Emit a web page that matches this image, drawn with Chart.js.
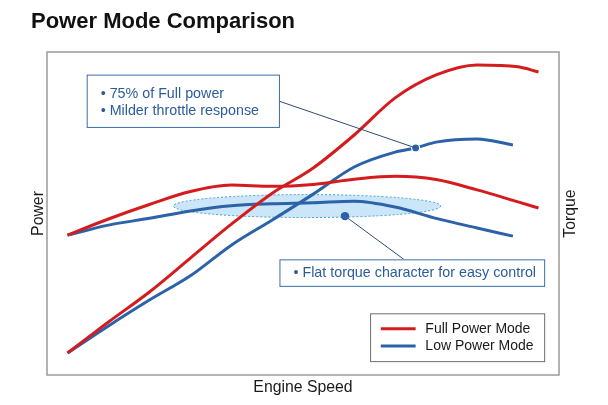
<!DOCTYPE html>
<html><head><meta charset="utf-8">
<script src="https://cdn.jsdelivr.net/npm/chart.js@4.4.1/dist/chart.umd.min.js"></script>
<style>html,body{margin:0;padding:0;background:#fff;}#wrap{width:608px;height:405px;position:relative;}</style>
</head><body><div id="wrap"><canvas id="c"></canvas></div>
<script>
// ---- data (arbitrary units: engine speed 0-100, output 0-100) ----
const chartTitle = 'Power Mode Comparison';
const xTitle = 'Engine Speed';
const yTitle = 'Power';
const y2Title = 'Torque';
const seriesNames = ['Full Power Mode', 'Low Power Mode'];

const fullSpeed  = [4, 12, 20, 28, 36, 44, 52, 60, 68, 76, 84, 92, 96];
const fullPower  = [6.8, 16.4, 25.7, 36.2, 46.7, 56.3, 64.1, 74.3, 85.8, 92.9, 96.0, 95.4, 93.8];
const fullTorque = [43.3, 48.3, 52.8, 56.8, 58.8, 58.4, 59.0, 60.6, 61.5, 60.5, 57.3, 53.6, 51.7];

const lowPowerSpeed = [4, 12, 20, 28, 36, 44, 52, 60, 68, 72, 76, 84, 91];
const lowPower      = [6.8, 15.2, 23.2, 30.7, 40.2, 48.0, 56.0, 64.4, 69.0, 70.3, 72.1, 73.1, 71.2];
const lowTorqueSpeed = [4, 12, 20, 28, 36, 44, 52, 60, 68, 76, 84, 91];
const lowTorque      = [43.3, 46.4, 48.5, 50.8, 52.4, 53.0, 53.3, 53.8, 52.0, 48.5, 45.5, 43.0];

const note1Text = ['\u2022 75% of Full power', '\u2022 Milder throttle response'];
const note1Index = 9; // highlighted point on Low Power curve
const note2Text = ['\u2022 Flat torque character for easy control'];

// ---- styling / annotation layout (data units) ----
const RED = '#d41c1f', BLUE = '#2b62a8';
const FONT = '"Liberation Sans", Arial, Helvetica, sans-serif';
const ann = {
  ellipse: {cx: 50.8, cy: 52.3, rx: 26.1, ry: 3.56},
  box1: {x0: 7.75, x1: 45.3, y0: 93.0, y1: 76.8, lead: 84.8},
  dot2: {x: 58.2, y: 49.2},
  box2: {x0: 45.4, x1: 97.1, y0: 35.8, y1: 27.6, leadX: 69.7},
  legend: {x0: 63.1, x1: 97.1, y0: 19.1, y1: 4.3, lx0: 65.2, lx1: 72.0, tx: 73.9, rows: [14.3, 9.0]}
};

const pts = (xs, ys) => xs.map((v, i) => ({x: v, y: ys[i]}));

const annotPlugin = {
  id: 'annot',
  beforeDatasetsDraw(chart) {
    const {ctx, chartArea: a, scales: {x, y}} = chart;
    ctx.save();
    ctx.strokeStyle = '#9b9b9b'; ctx.lineWidth = 1.5;
    ctx.strokeRect(a.left, a.top, a.right - a.left, a.bottom - a.top);
    const e = ann.ellipse;
    const cx = x.getPixelForValue(e.cx), cy = y.getPixelForValue(e.cy);
    const rx = x.getPixelForValue(e.cx + e.rx) - cx, ry = cy - y.getPixelForValue(e.cy + e.ry);
    ctx.beginPath(); ctx.ellipse(cx, cy, rx, ry, 0, 0, Math.PI * 2);
    ctx.fillStyle = 'rgba(185,222,246,0.75)'; ctx.fill();
    ctx.setLineDash([2, 2]); ctx.strokeStyle = '#3c9fcf'; ctx.lineWidth = 1; ctx.stroke();
    ctx.restore();
  },
  afterDatasetsDraw(chart) {
    const {ctx, chartArea: a, scales: {x, y}} = chart;
    const X = v => x.getPixelForValue(v), Y = v => y.getPixelForValue(v);
    ctx.save();
    const b1 = ann.box1;
    ctx.strokeStyle = '#2e4c6e'; ctx.lineWidth = 1;
    ctx.beginPath(); ctx.moveTo(X(b1.x1), Y(b1.lead));
    ctx.lineTo(X(lowPowerSpeed[note1Index]), Y(lowPower[note1Index])); ctx.stroke();
    const d2 = ann.dot2, b2 = ann.box2;
    ctx.beginPath(); ctx.moveTo(X(d2.x), Y(d2.y)); ctx.lineTo(X(b2.leadX), Y(b2.y0)); ctx.stroke();
    ctx.beginPath(); ctx.arc(X(d2.x), Y(d2.y), 4.2, 0, Math.PI * 2); ctx.fillStyle = BLUE; ctx.fill();
    const drawBox = (b, lines, dy) => {
      const l = X(b.x0), t = Y(b.y0), w = X(b.x1) - l, h = Y(b.y1) - t;
      ctx.fillStyle = '#fff'; ctx.fillRect(l, t, w, h);
      ctx.strokeStyle = '#3b6ea8'; ctx.lineWidth = 1; ctx.strokeRect(l + 0.5, t + 0.5, w, h);
      ctx.fillStyle = '#2b5c9c'; ctx.font = '14.3px ' + FONT; ctx.textBaseline = 'middle'; ctx.textAlign = 'left';
      const step = 17.7, start = t + h / 2 - step * (lines.length - 1) / 2 + dy;
      lines.forEach((s, i) => ctx.fillText(s, l + 14, start + i * step));
    };
    drawBox(b1, note1Text, 1.8);
    drawBox(b2, note2Text, 0);
    const L = ann.legend;
    const ll = X(L.x0), lt = Y(L.y0), lw = X(L.x1) - ll, lh = Y(L.y1) - lt;
    ctx.fillStyle = '#fff'; ctx.fillRect(ll, lt, lw, lh);
    ctx.strokeStyle = '#6f6f6f'; ctx.lineWidth = 1; ctx.strokeRect(ll + 0.5, lt + 0.5, lw, lh);
    [RED, BLUE].forEach((c, i) => {
      const ry = Y(L.rows[i]);
      ctx.strokeStyle = c; ctx.lineWidth = 3;
      ctx.beginPath(); ctx.moveTo(X(L.lx0), ry); ctx.lineTo(X(L.lx1), ry); ctx.stroke();
      ctx.fillStyle = '#1a1a1a'; ctx.font = '14px ' + FONT; ctx.textBaseline = 'middle';
      ctx.fillText(seriesNames[i], X(L.tx), ry + 0.5);
    });
    ctx.translate(a.right + 12, (a.top + a.bottom) / 2);
    ctx.rotate(-Math.PI / 2);
    ctx.fillStyle = '#1a1a1a'; ctx.font = '15.8px ' + FONT; ctx.textAlign = 'center'; ctx.textBaseline = 'middle';
    ctx.fillText(y2Title, 0, 0);
    ctx.restore();
  }
};

const ptR = lowPowerSpeed.map((_, i) => i === note1Index ? 4 : 0);

new Chart(document.getElementById('c'), {
  type: 'line',
  data: {
    datasets: [
      {label: seriesNames[0] + ' (Power)', data: pts(fullSpeed, fullPower), borderColor: RED, yAxisID: 'y'},
      {label: seriesNames[0] + ' (Torque)', data: pts(fullSpeed, fullTorque), borderColor: RED, yAxisID: 'y2'},
      {label: seriesNames[1] + ' (Power)', data: pts(lowPowerSpeed, lowPower), borderColor: BLUE, yAxisID: 'y',
       pointRadius: ptR, pointBackgroundColor: BLUE, pointBorderColor: '#fff', pointBorderWidth: 1.2},
      {label: seriesNames[1] + ' (Torque)', data: pts(lowTorqueSpeed, lowTorque), borderColor: BLUE, yAxisID: 'y2'}
    ]
  },
  options: {
    responsive: true, maintainAspectRatio: false, animation: false, events: [],
    datasets: {line: {borderWidth: 3, pointRadius: 0, cubicInterpolationMode: 'monotone', fill: false, borderCapStyle: 'butt'}},
    layout: {padding: {left: 31, right: 49, top: 0, bottom: 0}},
    plugins: {
      legend: {display: false}, tooltip: {enabled: false},
      title: {display: true, text: chartTitle, align: 'start', color: '#111',
              font: {family: FONT, size: 22, weight: 'bold'}, padding: {top: 9.2, bottom: 16.4}}
    },
    scales: {
      x: {type: 'linear', min: 0, max: 100, grid: {display: false}, border: {display: false}, ticks: {display: false},
          title: {display: true, text: xTitle, color: '#1a1a1a', font: {family: FONT, size: 15.8}, padding: {top: 0, bottom: 7.5}},
          afterFit(s) { s.height = 30; }},
      y: {min: 0, max: 100, grid: {display: false}, border: {display: false}, ticks: {display: false},
          title: {display: true, text: yTitle, color: '#1a1a1a', font: {family: FONT, size: 15.8}, padding: {top: -2, bottom: 0}},
          afterFit(s) { s.width = 16; }},
      y2: {min: 0, max: 100, display: false}
    }
  },
  plugins: [annotPlugin]
});
</script></body></html>
